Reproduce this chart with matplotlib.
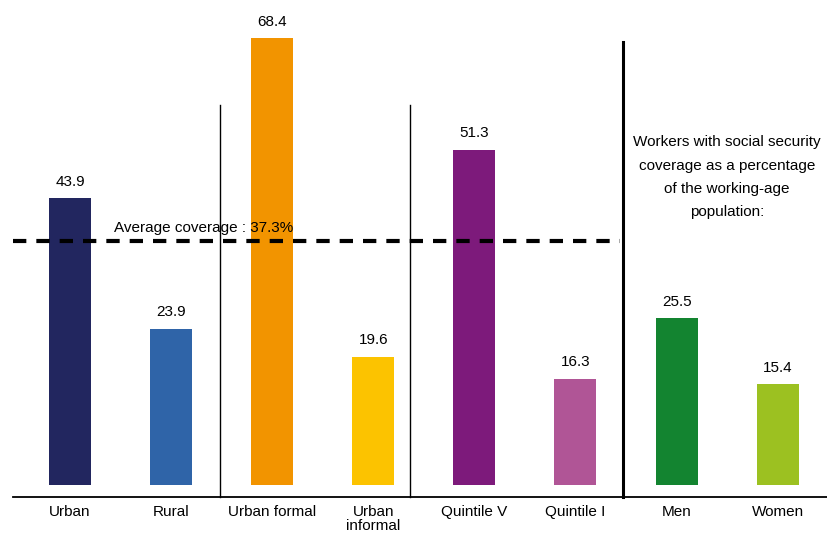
import numpy as np
import matplotlib
matplotlib.use("Agg")
import matplotlib.pyplot as plt

plt.rcParams['font.family'] = ['Liberation Sans', 'DejaVu Sans']

# data
categories = ["Urban", "Rural", "Urban formal", "Urban\ninformal",
              "Quintile V", "Quintile I", "Men", "Women"]
values = [43.9, 23.9, 68.4, 19.6, 51.3, 16.3, 25.5, 15.4]
colors = ["#22265f", "#2f64a8", "#f29400", "#fcc300",
          "#7d1a7b", "#b05596", "#138430", "#9cc121"]
average = 37.3
note = "Workers with social security\ncoverage as a percentage\nof the working-age\npopulation:"

fig = plt.figure(figsize=(8.27, 5.34), dpi=100)
ax = fig.add_axes([0, 0, 1, 1])
ax.set_xlim(-0.692, 7.488)
ax.set_ylim(-7.5, 74.27)
ax.axis('off')

x = np.arange(len(values))
ax.bar(x, values, width=0.415, color=colors, zorder=2)

# value labels
for xi, v in zip(x, values):
    ax.annotate(f"{v:.1f}", (xi, v), xytext=(0, 7), textcoords='offset points',
                ha='center', va='bottom', fontsize=11)

# category labels
for xi, c in zip(x, categories):
    ax.text(xi, -3.1, c, ha='center', va='top', fontsize=11, linespacing=1.0)

# baseline
ax.plot([-0.563, 7.488], [-1.84, -1.84], color='black', lw=1.3, clip_on=False)

# separators
ax.plot([1.484, 1.484], [-1.84, 58.2], color='black', lw=1.0)
ax.plot([3.363, 3.363], [-1.84, 58.2], color='black', lw=1.0)
ax.plot([5.47, 5.47], [-1.84, 67.8], color='black', lw=2.2)

# average line
ax.plot([-0.563, 5.44], [average, average], color='black', lw=3,
        dashes=(3.2, 2.4), zorder=3)
ax.text(0.435, 39.4, f"Average coverage : {average}%", ha='left', va='center',
        fontsize=11, zorder=4)

ax.text(6.50, 47.1, note, ha='center', va='center', fontsize=11,
        linespacing=1.85)

plt.savefig("out.png", dpi=100)
